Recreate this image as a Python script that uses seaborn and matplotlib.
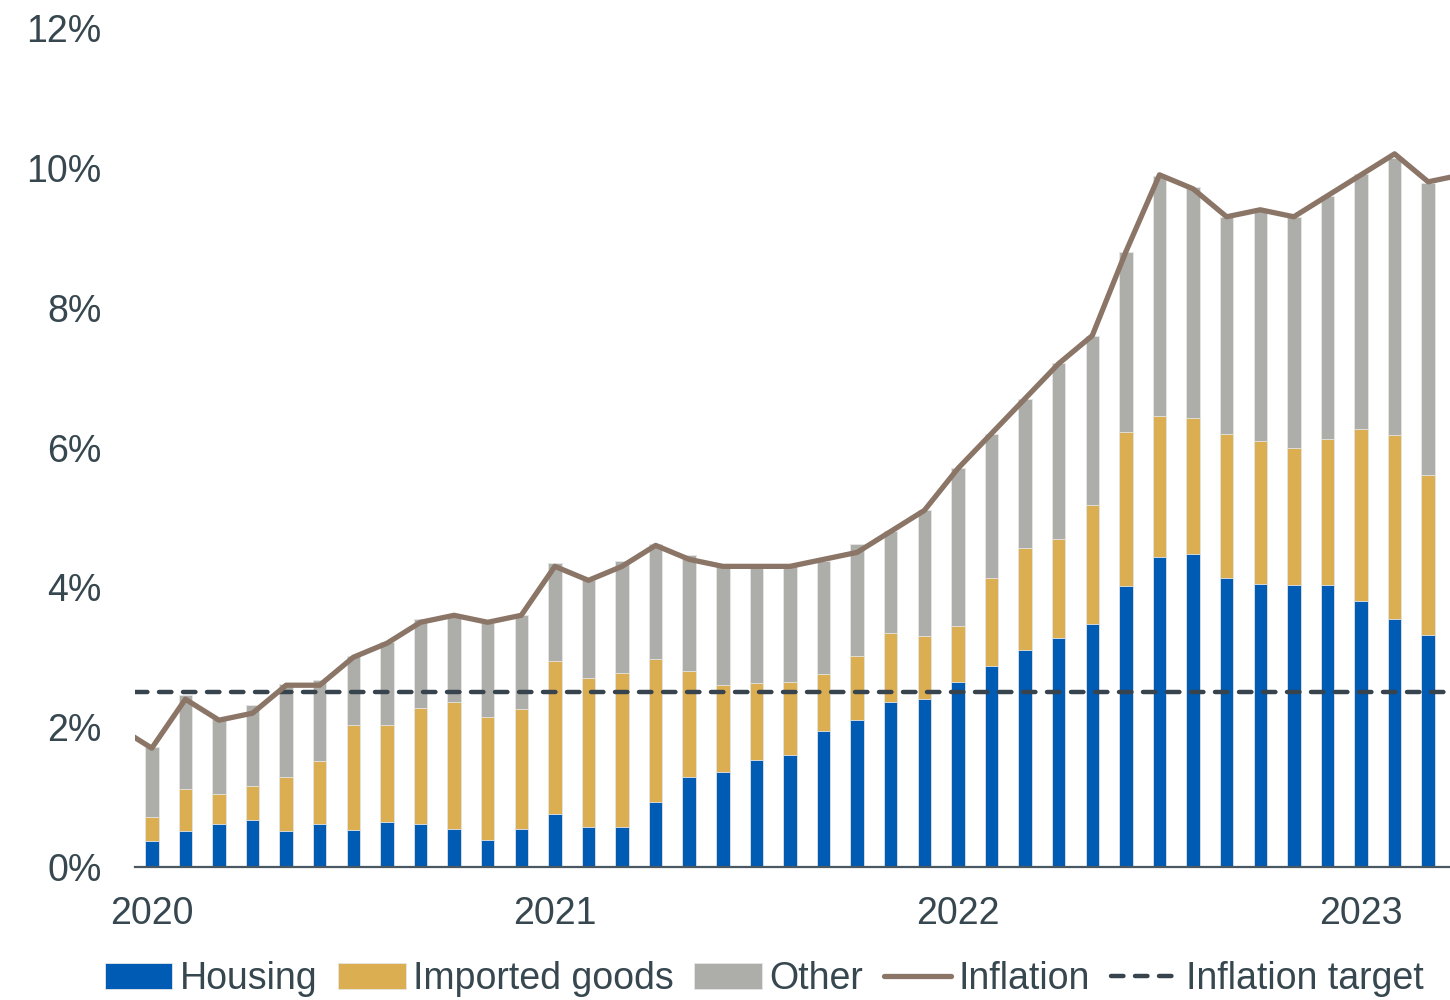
import numpy as np
import pandas as pd
import matplotlib
matplotlib.use('Agg')
import matplotlib.pyplot as plt
import seaborn as sns

# Monthly contributions to inflation (percentage points), Jan 2020 - Mar 2023
months = pd.date_range('2020-01-01', '2023-03-01', freq='MS')

housing = [0.37, 0.51, 0.62, 0.67, 0.52, 0.61, 0.53, 0.65, 0.62, 0.54, 0.39, 0.55,
           0.76, 0.57, 0.57, 0.93, 1.29, 1.36, 1.53, 1.60, 1.95, 2.10, 2.36, 2.40,
           2.64, 2.88, 3.11, 3.27, 3.48, 4.02, 4.44, 4.47, 4.14, 4.05, 4.04, 4.04,
           3.80, 3.55, 3.32]
imported = [0.35, 0.61, 0.43, 0.49, 0.77, 0.90, 1.50, 1.38, 1.65, 1.82, 1.75, 1.71,
            2.18, 2.13, 2.21, 2.05, 1.51, 1.24, 1.10, 1.05, 0.81, 0.92, 0.99, 0.91,
            0.80, 1.25, 1.45, 1.42, 1.70, 2.20, 2.01, 1.95, 2.06, 2.04, 1.95, 2.08,
            2.47, 2.63, 2.29]
other = [0.99, 1.34, 1.06, 1.15, 1.33, 1.16, 0.99, 1.19, 1.27, 1.22, 1.35, 1.35,
         1.41, 1.40, 1.60, 1.64, 1.66, 1.70, 1.67, 1.65, 1.61, 1.60, 1.45, 1.79,
         2.26, 2.06, 2.13, 2.52, 2.42, 2.58, 3.44, 3.30, 3.10, 3.29, 3.31, 3.48,
         3.64, 3.96, 4.18]

# Headline inflation, Dec 2019 - Apr 2023 (ends run past the axis edges)
line_months = pd.date_range('2019-12-01', '2023-04-01', freq='MS')
inflation = [2.0,
             1.7, 2.4, 2.1, 2.2, 2.6, 2.6, 3.0, 3.2, 3.5, 3.6, 3.5, 3.6,
             4.3, 4.1, 4.3, 4.6, 4.4, 4.3, 4.3, 4.3, 4.4, 4.5, 4.8, 5.1,
             5.7, 6.2, 6.7, 7.2, 7.6, 8.8, 9.9, 9.7, 9.3, 9.4, 9.3, 9.6,
             9.9, 10.2, 9.8,
             9.9]
inflation_target = 2.5

year_labels = ['2020', '2021', '2022', '2023']

TEXT = '#37474f'
C_HOUSING = '#005bb5'
C_IMPORTED = '#dcae52'
C_OTHER = '#adaea9'
C_INFL = '#8a7567'
C_TARGET = '#37444d'

sns.set_theme(style='white')
plt.rcParams['font.family'] = ['Liberation Sans', 'DejaVu Sans']

# month index relative to Jan 2020
def month_pos(dates):
    return (dates.year - 2020) * 12 + (dates.month - 1)

df = pd.DataFrame({
    'pos': month_pos(months),
    'housing': housing,
    'imported': imported,
    'other': other,
})
df['imp_top'] = df['housing'] + df['imported']
df['total'] = df['imp_top'] + df['other']

line_df = pd.DataFrame({'pos': month_pos(line_months), 'inflation': inflation})

fig = plt.figure(figsize=(14.5, 10), dpi=100)
ax = fig.add_axes([135 / 1450, 0.133, 1 - 135 / 1450, 0.972 - 0.133])

# stacked bars drawn top-down so each layer covers the one below
bar_kw = dict(native_scale=True, width=0.4, edgecolor='#e6e6e6', linewidth=0.6, ax=ax)
sns.barplot(data=df, x='pos', y='total', color=C_OTHER, saturation=1, label='Other', **bar_kw)
sns.barplot(data=df, x='pos', y='imp_top', color=C_IMPORTED, saturation=1, label='Imported goods', **bar_kw)
sns.barplot(data=df, x='pos', y='housing', color=C_HOUSING, saturation=1, label='Housing', **bar_kw)

ax.axhline(inflation_target, color=C_TARGET, lw=3.2, linestyle=(0, (2.8, 2.6)),
           dash_capstyle='round', zorder=4, label='Inflation target')
sns.lineplot(data=line_df, x='pos', y='inflation', color=C_INFL, lw=3.8,
             ax=ax, zorder=5, label='Inflation')

ax.set_xlim(-0.5, 38.65)
ax.set_ylim(0, 12)
ax.set_yticks(np.arange(0, 13, 2))
ax.set_yticklabels([f'{v}%' for v in range(0, 13, 2)])
ax.set_xticks([0, 12, 24, 36])
ax.set_xticklabels(year_labels)
ax.set_xlabel('')
ax.set_ylabel('')
ax.tick_params(axis='y', length=0, pad=24, labelsize=27, labelcolor=TEXT)
ax.tick_params(axis='x', length=0, pad=21, labelsize=27, labelcolor=TEXT)

for s in ['left', 'top', 'right']:
    ax.spines[s].set_visible(False)
ax.spines['bottom'].set_color('#4a5861')
ax.spines['bottom'].set_linewidth(1.6)
ax.grid(False)

if ax.get_legend() is not None:
    ax.get_legend().remove()
handles, labels = ax.get_legend_handles_labels()
lookup = dict(zip(labels, handles))
order = ['Housing', 'Imported goods', 'Other', 'Inflation', 'Inflation target']
fig.legend([lookup[k] for k in order], order, loc='center', ncol=5,
           bbox_to_anchor=(0.527, 0.021), frameon=False, fontsize=27,
           handlelength=1.8, handletextpad=0.2, columnspacing=0.55,
           labelcolor=TEXT, borderaxespad=0)

fig.savefig('out.png', dpi=100)
